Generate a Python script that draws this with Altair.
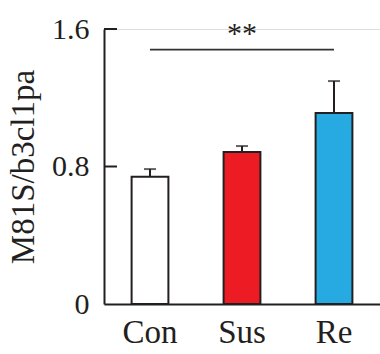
import altair as alt
import pandas as pd

groups = ["Con", "Sus", "Re"]
means = [0.74, 0.884, 1.111]
upper = [0.785, 0.919, 1.297]
fills = ["#FFFFFF", "#ED1C24", "#27AAE1"]
y_ticks = [0, 0.8, 1.6]
sig_from, sig_to, sig_y, sig_label = "Con", "Re", 1.48, "**"

FONT = "Liberation Serif"
INK = "#231F20"

df = pd.DataFrame({"group": groups, "mean": means, "upper": upper, "fill": fills})
sig = pd.DataFrame({"a": [sig_from], "b": [sig_to], "y": [sig_y], "t": [sig_label]})
tk = pd.DataFrame({"v": [t for t in y_ticks if t > 0]})

xscale = alt.Scale(domain=groups, paddingInner=0.6, paddingOuter=0.3)
yscale = alt.Scale(domain=[0, 1.6], nice=False)

x_enc = alt.X("group:N", scale=xscale, sort=groups,
              axis=alt.Axis(title=None, labelAngle=0, ticks=False, labelPadding=12,
                            labelFontSize=33))
y_enc = alt.Y("mean:Q", scale=yscale,
              axis=alt.Axis(title="M81S/b3cl1pa", values=y_ticks, ticks=False,
                            labelPadding=15, labelFontSize=30,
                            grid=False, format="~g",
                            titleFontSize=33, titleAngle=-90,
                            titleBaseline="alphabetic", titleAlign="center",
                            titleX=-71, titleY=137.5))

bars = alt.Chart(df).mark_bar(stroke=INK, strokeWidth=2).encode(
    x=x_enc, y=y_enc, fill=alt.Fill("fill:N", scale=None))

err = alt.Chart(df).mark_rule(color=INK, strokeWidth=2).encode(
    x=alt.X("group:N", scale=xscale, sort=groups),
    y=alt.Y("mean:Q", scale=yscale), y2="upper:Q")

cap = alt.Chart(df).mark_tick(color=INK, thickness=2, size=12, orient="horizontal").encode(
    x=alt.X("group:N", scale=xscale, sort=groups),
    y=alt.Y("upper:Q", scale=yscale))

ticks = alt.Chart(tk).mark_rule(color=INK, strokeWidth=2).encode(
    y=alt.Y("v:Q", scale=yscale), x=alt.value(0), x2=alt.value(13))

sig_line = alt.Chart(sig).mark_rule(color="#333333", strokeWidth=1.8).encode(
    x=alt.X("a:N", scale=xscale), x2="b:N", y=alt.Y("y:Q", scale=yscale))

sig_text = alt.Chart(sig).transform_calculate(mid="'Sus'").mark_text(
    fontSize=30, color=INK, baseline="alphabetic", dy=-7).encode(
    x=alt.X("mid:N", scale=xscale), y=alt.Y("y:Q", scale=yscale), text="t:N")

chart = alt.layer(bars, err, cap, ticks, sig_line, sig_text).properties(
    width=276, height=275,
    autosize=alt.AutoSizeParams(type="none"),
    padding={"left": 104, "top": 29, "right": 0, "bottom": 50},
).configure_view(stroke=None).configure(
    background="white", font=FONT
).configure_axis(
    labelFont=FONT, titleFont=FONT, labelColor=INK, titleColor=INK,
    titleFontWeight="normal", domainColor=INK, domainWidth=2, grid=False
).configure_text(font=FONT)

chart.save("out.html", embed_options={"renderer": "svg", "actions": False})
